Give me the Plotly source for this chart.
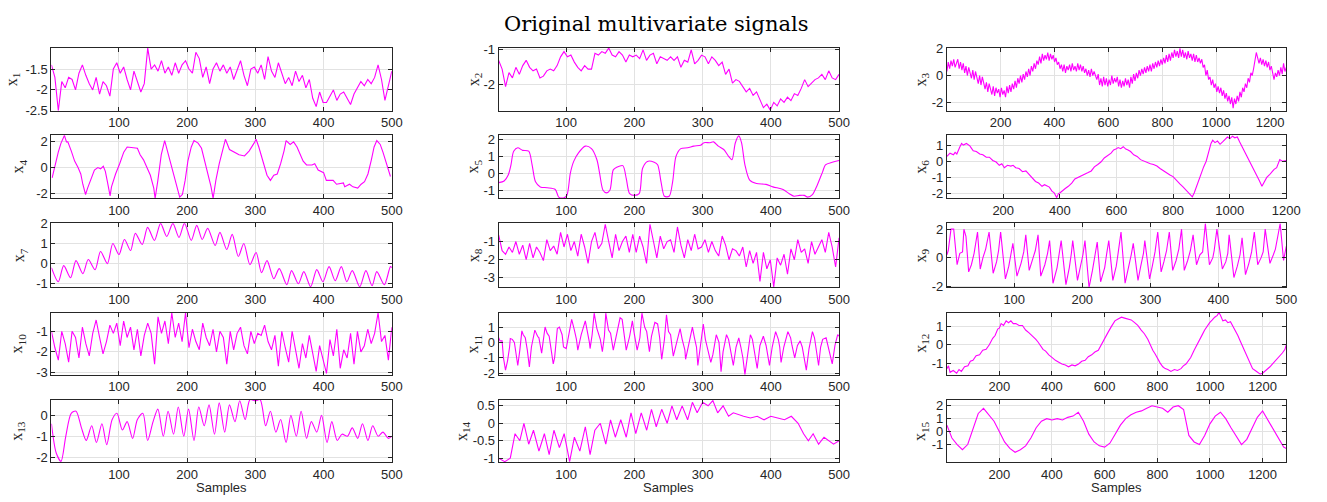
import numpy as np
import plotly.graph_objects as go

# ---------------- signal values ----------------
# uniformly spaced series (value lists, spread over 1..N samples)
x1_vals = [-1.4, -1.7, -2.5, -1.8, -1.95, -1.7, -1.75, -2.0, -1.6, -1.4,
           -1.65, -1.85, -2.0, -1.7, -2.1, -1.8, -1.9, -2.15, -1.5, -1.35,
           -1.6, -1.45, -1.75, -2.0, -1.55, -1.8, -2.05, -1.85, -1.0, -1.5,
           -1.4, -1.55, -1.3, -1.6, -1.45, -1.65, -1.35, -1.6, -1.4, -1.3,
           -1.5, -1.6, -1.1, -1.25, -1.7, -1.45, -1.85, -1.5, -1.35, -1.55,
           -1.4, -1.6, -1.45, -1.75, -1.5, -1.3, -1.65, -1.9, -1.5, -1.45,
           -1.6, -1.4, -1.75, -1.2, -1.55, -1.7, -1.35, -1.6, -1.85, -1.7,
           -1.9, -1.55, -1.8, -1.65, -1.95, -1.75, -2.2, -2.4, -2.05, -2.3,
           -2.3, -2.15, -2.0, -2.25, -2.1, -2.05, -2.2, -2.35, -2.1, -1.95,
           -1.8, -1.9, -1.75, -1.85, -1.7, -1.4, -1.75, -2.25, -1.9, -1.55]

x2_vals = [-1.3, -1.55, -2.05, -1.65, -1.8, -1.5, -1.7, -1.45, -1.3, -1.5,
           -1.6, -1.55, -1.8, -1.75, -1.6, -1.55, -1.6, -1.45, -1.2, -1.05,
           -1.2, -1.15, -1.35, -1.5, -1.6, -1.45, -1.55, -1.55, -1.1, -1.15,
           -1.05, -1.1, -0.95, -1.15, -1.2, -1.05, -1.15, -1.35, -1.15, -1.2,
           -1.15, -1.25, -1.0, -1.3, -1.15, -1.1, -1.4, -1.2, -1.25, -1.3,
           -1.2, -1.3, -1.2, -1.5, -1.3, -1.35, -1.0, -1.4, -1.3, -1.15,
           -1.2, -1.4, -1.2, -1.3, -1.45, -1.35, -1.7, -1.55, -1.95, -1.85,
           -1.9, -2.05, -2.2, -2.1, -2.3, -2.2, -2.45, -2.65, -2.55, -2.72,
           -2.5, -2.6, -2.4, -2.5, -2.35, -2.45, -2.25, -2.3, -2.1, -1.85,
           -2.05, -1.95, -1.85, -1.8, -1.7, -1.85, -1.6, -1.8, -1.85, -1.7]

x3_vals = [0.3, 1.0, 0.5, 1.1, 0.7, 1.2, 0.6, 0.9, 1.2, 0.5,
           1.0, 0.4, 0.9, 0.2, 0.7, 0.0, 0.6, 0.2, -0.2, 0.4,
           -0.3, 0.3, -0.2, -0.6, 0.0, -0.7, -0.1, -0.5, -1.0, -0.5,
           -1.2, -0.6, -1.0, -1.4, -0.8, -1.5, -0.9, -1.3, -1.0, -1.6,
           -0.9, -1.4, -1.1, -1.6, -0.8, -1.3, -0.7, -1.2, -0.6, -1.0,
           -0.4, -0.9, -0.2, -0.6, 0.0, -0.5, 0.1, -0.3, 0.3, -0.1,
           0.5, 0.0, 0.7, 0.3, 0.9, 0.5, 1.1, 0.8, 1.4, 0.9,
           1.6, 1.1, 1.5, 1.2, 1.7, 1.1, 1.6, 1.2, 1.5, 1.0,
           1.3, 0.8, 1.0, 0.5, 0.8, 0.3, 0.8, 0.2, 0.7, 0.4,
           0.8, 0.3, 0.9, 0.4, 0.7, 0.3, 0.9, 0.4, 0.8, 0.3,
           0.7, 0.2, 0.5, 0.0, 0.4, -0.1, 0.5, 0.0, 0.3, -0.1,
           -0.3, 0.1, -0.7, -0.2, -0.8, -0.1, -0.7, -0.2, -0.8, -0.3,
           -0.7, 0.0, -0.6, -0.2, -0.5, -0.1, -0.8, -0.3, -0.9, -0.4,
           -0.8, -0.2, -0.7, -0.3, -0.9, -0.1, -0.6, 0.1, -0.4, 0.2,
           -0.2, 0.4, 0.0, 0.5, 0.1, 0.6, 0.2, 0.7, 0.3, 0.8,
           0.3, 0.9, 0.5, 1.0, 0.6, 1.1, 0.7, 1.2, 0.8, 1.3,
           0.9, 1.5, 1.0, 1.6, 1.1, 1.7, 1.3, 1.9, 1.4, 1.8,
           1.3, 2.0, 1.4, 1.9, 1.3, 1.7, 1.2, 1.8, 1.3, 1.6,
           1.1, 1.6, 1.0, 1.5, 1.0, 1.3, 0.9, 1.2, 0.6, 0.8,
           0.0, 0.4, -0.3, -0.1, -0.7, -0.3, -0.9, -0.6, -1.2, -0.8,
           -1.3, -0.9, -1.5, -1.1, -1.7, -1.3, -1.9, -1.5, -2.1, -1.6,
           -2.4, -1.7, -2.1, -1.5, -1.9, -1.2, -1.6, -0.9, -1.2, -0.6,
           -0.9, -0.2, -0.5, 0.2, 0.0, 0.5, 1.1, 1.7, 1.3, 0.9,
           1.3, 0.8, 1.2, 0.7, 1.1, 0.6, 1.0, 0.4, 0.7, 0.2,
           -0.3, 0.2, -0.1, 0.4, 0.0, 0.6, 0.1, 0.9, 0.3, 0.6]

x8_vals = [-0.65, -1.5, -1.7, -1.3, -1.6, -1.0, -1.7, -1.2, -2.0, -1.1,
           -1.9, -1.3, -1.6, -2.05, -0.9, -1.5, -1.25, -1.7, -0.5, -1.3,
           -0.6, -1.5, -1.0, -1.8, -0.6, -1.3, -2.2, -1.0, -0.5, -1.4,
           -1.1, -0.05, -1.0, -1.9, -0.6, -1.5, -1.0, -0.7, -1.6, -0.6,
           -1.6, -0.7, -1.3, -2.2, -0.05, -1.0, -1.9, -0.7, -1.4, -1.0,
           -0.9, -1.6, -0.2, -1.2, -1.9, -0.9, -1.5, -0.6, -1.4, -1.3,
           -0.9, -1.6, -1.0, -1.5, -1.8, -0.7, -1.2, -2.0, -1.4, -1.5,
           -1.8, -1.3, -2.4, -1.5, -2.2, -1.6, -3.2, -1.6, -2.5, -2.0,
           -3.5, -1.9, -2.3, -1.7, -2.8, -1.4, -2.0, -0.9, -1.6, -1.4,
           -2.2, -1.0, -1.7, -1.3, -0.9, -1.6, -0.5, -1.3, -2.4, -0.8]

x10_vals = [-1.0, -1.8, -2.4, -1.0, -1.6, -2.5, -1.0, -1.3, -2.3, -0.8,
            -1.6, -2.2, -1.1, -0.45, -1.3, -2.1, -1.5, -0.7, -1.1, -0.6,
            -1.7, -0.5, -1.3, -0.8, -1.9, -0.9, -2.2, -1.2, -0.6, -1.1,
            -2.6, -0.3, -1.1, -0.5, -1.6, -0.1, -1.3, -0.6, -1.5, -0.1,
            -1.8, -0.9, -1.5, -1.9, -0.6, -1.3, -1.7, -0.9, -2.0, -1.0,
            -1.3, -2.6, -1.0, -1.9, -1.1, -0.8, -1.7, -2.1, -1.0, -1.6,
            -1.1, -1.2, -0.7, -1.5, -1.9, -1.2, -2.7, -1.0, -1.8, -2.5,
            -1.0, -2.0, -2.8, -1.6, -2.3, -1.2, -2.1, -2.95, -1.7, -2.4,
            -3.05, -1.4, -2.2, -0.9, -2.8, -1.9, -2.3, -1.1, -2.6, -1.0,
            -2.0, -1.7, -0.9, -1.6, -1.1, -0.1, -1.5, -1.2, -2.4, -0.8]

# series given as (sample, value) pairs
x4_t = [2, 6, 11, 15, 20, 23, 25, 30, 35, 40, 44, 47, 51, 54, 59, 64, 69, 73, 77, 80,
        83, 87, 89, 95, 101, 107, 112, 119, 127, 131, 136, 141, 146, 151, 153, 157, 162, 167, 170, 175,
        180, 185, 189, 193, 197, 201, 206, 210, 216, 221, 226, 230, 235, 238, 242, 247, 252, 256, 262, 269,
        276, 284, 291, 298, 301, 305, 313, 317, 322, 327, 332, 337, 342, 345, 351, 356, 361, 366, 370, 375,
        383, 387, 392, 400, 404, 414, 419, 429, 431, 438, 443, 450, 455, 460, 465, 470, 474, 478, 483, 487,
        492, 498]
x4_v = [-0.8, 0.2, 1.2, 1.9, 2.5, 2.0, 2.0, 1.3, 0.5, 0.0, -0.5, -1.3, -2.1, -1.6, -0.9, -0.2, 0.0, -0.1, 0.1, -0.3,
        -1.1, -2.2, -1.5, -0.5, 0.3, 1.2, 1.6, 1.55, 1.5, 1.0, 0.6, 0.0, -0.6, -1.6, -2.4, -1.0, 1.0, 2.1, 1.5, 0.6,
        -0.3, -1.5, -2.3, -2.1, -1.0, 0.5, 1.6, 2.1, 1.9, 1.5, 0.5, -0.5, -1.5, -2.4, -1.0, 0.3, 1.5, 2.2, 1.4, 1.2,
        1.0, 0.9, 1.3, 1.9, 2.2, 1.6, 0.0, -0.6, -1.0, -0.6, -0.5, 0.3, 1.3, 2.1, 1.8, 2.0, 1.6, 0.9, 0.5, 0.2,
        0.2, 0.3, -0.2, -0.4, -1.0, -1.0, -1.3, -1.2, -1.5, -1.3, -1.5, -1.6, -1.3, -1.1, -0.5, 0.6, 1.6, 2.1, 1.8, 1.2,
        0.3, -0.7]

x5_t = [1, 9, 15, 19, 23, 29, 36, 45, 50, 55, 62, 72, 84, 89, 96, 101, 106, 111, 118, 128,
        137, 145, 149, 154, 159, 164, 169, 174, 183, 188, 193, 200, 207, 212, 219, 229, 234, 239, 244, 251,
        256, 261, 268, 278, 287, 297, 302, 311, 316, 323, 331, 338, 343, 348, 353, 357, 362, 369, 379, 393,
        403, 418, 427, 434, 442, 449, 454, 461, 468, 476, 480, 490, 500]
x5_v = [-0.55, -0.45, -0.1, 0.5, 1.3, 1.5, 1.35, 1.3, 0.5, -0.5, -0.8, -0.85, -0.95, -1.4, -1.45, -1.3, 0.0, 0.7, 1.2, 1.6,
        1.45, 0.8, 0.0, -1.0, -1.15, -1.0, 0.2, 0.35, 0.45, -0.3, -1.2, -1.3, -1.2, 0.3, 0.7, 0.65, 0.5, -0.5, -1.35, -1.35,
        -0.5, 1.0, 1.45, 1.5, 1.6, 1.65, 1.8, 1.8, 1.85, 1.6, 1.4, 1.0, 0.8, 1.8, 2.2, 1.8, 0.5, -0.4, -0.6, -0.65,
        -0.8, -0.95, -1.2, -1.35, -1.3, -1.3, -1.4, -1.25, -0.7, 0.1, 0.5, 0.65, 0.75]

x6_t = [1, 12, 24, 30, 36, 42, 47, 53, 59, 70, 82, 88, 94, 105, 117, 128, 140, 151, 163, 175,
        186, 195, 204, 215, 227, 235, 244, 256, 268, 280, 291, 302, 314, 325, 337, 346, 355, 363, 372, 380,
        389, 395, 401, 410, 418, 430, 442, 453, 465, 476, 488, 500, 511, 522, 534, 545, 557, 569, 581, 590,
        598, 606, 615, 624, 633, 641, 650, 661, 673, 685, 697, 708, 720, 731, 743, 754, 766, 777, 789, 800,
        812, 824, 836, 844, 853, 860, 868, 875, 882, 891, 900, 908, 917, 923, 929, 934, 940, 948, 957, 966,
        975, 983, 992, 1001, 1010, 1018, 1027, 1035, 1044, 1053, 1062, 1070, 1079, 1088, 1097, 1105, 1114, 1122, 1131, 1140,
        1149, 1157, 1166, 1171, 1177, 1186, 1195, 1200]
x6_v = [0.3, 0.5, 0.4, 0.55, 0.45, 0.75, 0.9, 1.1, 1.0, 1.1, 0.95, 0.8, 0.65, 0.6, 0.45, 0.4, 0.25, 0.25, 0.05, -0.05,
        -0.25, -0.15, -0.4, -0.25, -0.3, -0.25, -0.4, -0.45, -0.65, -0.6, -0.8, -1.0, -1.25, -1.35, -1.55, -1.45, -1.55, -1.6, -1.85, -1.95,
        -2.25, -2.0, -1.95, -1.8, -1.7, -1.55, -1.35, -1.1, -1.0, -0.95, -0.8, -0.7, -0.6, -0.35, -0.2, -0.05, 0.2, 0.35, 0.5, 0.7,
        0.75, 0.85, 0.78, 0.9, 0.75, 0.7, 0.6, 0.4, 0.3, 0.1, 0.0, -0.05, -0.15, -0.2, -0.3, -0.45, -0.6, -0.7, -0.85, -0.95,
        -1.2, -1.4, -1.6, -1.75, -1.9, -2.05, -2.2, -1.95, -1.6, -1.2, -0.8, -0.35, 0.0, 0.4, 0.8, 1.1, 1.3, 1.15, 1.25, 1.05,
        1.2, 1.35, 1.5, 1.4, 1.55, 1.45, 1.5, 1.2, 0.9, 0.6, 0.3, 0.0, -0.3, -0.55, -0.85, -1.2, -1.55, -1.25, -1.0, -0.85,
        -0.65, -0.5, -0.4, -0.1, 0.1, 0.0, 0.05, 0.05]

x7_t = [1, 11, 19, 29, 37, 47, 55, 65, 73, 83, 91, 100, 108, 117, 124, 134, 142, 152, 161, 170,
        179, 188, 196, 206, 214, 222, 230, 241, 248, 258, 266, 275, 283, 292, 301, 309, 317, 327, 335, 346,
        353, 363, 371, 381, 390, 399, 408, 417, 426, 434, 442, 453, 462, 471, 478, 489, 498, 500]
x7_v = [-0.2, -0.9, -0.1, -0.7, 0.15, -0.5, 0.2, -0.3, 0.6, 0.0, 1.0, 0.45, 1.2, 0.65, 1.5, 0.95, 1.8, 1.15, 2.0, 1.35,
        2.0, 1.3, 2.0, 1.15, 1.9, 1.2, 1.75, 0.9, 1.55, 0.7, 1.45, 0.35, 1.0, -0.05, 0.55, -0.45, 0.15, -0.75, -0.25, -1.05,
        -0.35, -1.0, -0.4, -1.15, -0.3, -0.9, -0.15, -0.85, -0.15, -0.9, -0.35, -1.15, -0.35, -1.1, -0.4, -1.05, -0.15, -0.2]

x9_t = [1, 3, 7, 11, 16, 20, 24, 26, 29, 33, 37, 41, 46, 50, 54, 58, 63, 69, 74, 77,
        80, 87, 92, 96, 98, 104, 110, 114, 117, 122, 127, 131, 135, 139, 145, 149, 152, 157, 163, 166,
        169, 176, 181, 184, 186, 193, 198, 201, 204, 210, 215, 219, 222, 227, 233, 236, 239, 245, 250, 253,
        257, 263, 268, 272, 275, 282, 286, 290, 292, 299, 303, 307, 311, 316, 320, 324, 328, 333, 338, 342,
        346, 350, 355, 359, 363, 368, 373, 377, 381, 387, 392, 394, 398, 406, 411, 414, 416, 423, 428, 432,
        435, 440, 445, 449, 453, 458, 463, 466, 469, 476, 481, 484, 491, 496, 500]
x9_v = [0.2, 0.5, 2.0, 2.0, -0.5, 0.3, 0.4, 2.0, 1.5, -1.0, -0.5, 0.3, 1.8, -0.8, 0.0, 0.6, 1.8, -1.1, -0.3, 0.5,
        1.8, -1.5, -0.6, 0.4, 1.0, -1.3, -0.4, 0.4, 1.6, -0.9, -0.2, 0.5, 1.6, -1.3, -0.5, 0.3, 1.2, -1.8, -0.7, 0.4,
        1.2, -1.9, -0.7, 0.3, 1.2, -1.6, -0.6, 0.2, 1.2, -2.1, -0.9, 0.2, 1.1, -1.7, -0.7, 0.3, 1.2, -1.6, -0.6, 0.4,
        1.8, -1.8, -0.8, 0.2, 1.0, -1.6, -0.6, 0.3, 1.2, -1.5, -0.6, 0.4, 1.8, -1.0, -0.3, 0.5, 1.8, -0.9, -0.2, 0.6,
        2.0, -0.9, -0.2, 0.5, 1.6, -0.5, 0.2, 0.4, 2.4, -0.5, 0.0, 0.5, 2.0, -0.8, -0.3, 0.3, 1.6, -1.4, -0.6, 0.2,
        1.4, -1.2, -0.4, 0.4, 1.8, -0.5, 0.0, 0.4, 2.0, -0.4, 0.2, 0.6, 2.4, -0.2, 0.8]

x11_t = [1, 3, 6, 8, 11, 14, 17, 18, 21, 24, 25, 29, 32, 35, 37, 40, 43, 46, 49, 54,
         58, 60, 64, 69, 72, 75, 81, 83, 87, 90, 94, 96, 100, 104, 108, 112, 115, 117, 122, 128,
         132, 134, 135, 138, 141, 145, 150, 153, 156, 158, 162, 165, 169, 174, 179, 182, 185, 188, 193, 197,
         200, 204, 208, 211, 215, 218, 222, 225, 230, 234, 237, 240, 244, 247, 250, 253, 257, 261, 263, 267,
         270, 274, 275, 279, 285, 288, 291, 293, 297, 301, 304, 308, 312, 315, 320, 324, 327, 330, 335, 338,
         341, 345, 349, 353, 356, 359, 362, 366, 370, 373, 377, 380, 384, 389, 393, 395, 398, 402, 407, 411,
         413, 415, 419, 425, 429, 431, 435, 439, 443, 446, 449, 452, 456, 461, 464, 467, 470, 473, 476, 481,
         485, 488, 490, 494, 498, 500]
x11_v = [0.3, 0.1, 0.1, -1.0, -1.8, -1.2, -0.3, 0.25, 0.2, 0.0, -0.3, -1.5, -0.5, 0.75, 0.5, 0.3, -0.5, -1.6, -0.3, 0.8,
         0.4, 0.3, -0.7, 1.0, 0.6, 0.4, -1.4, -1.0, 0.9, 1.0, 0.5, -0.3, -0.4, 0.5, 1.5, 0.8, 0.2, -0.5, 0.5, 1.4,
         0.6, 0.0, -0.4, 0.5, 1.9, 0.9, 0.2, -0.6, 0.4, 1.9, 0.8, 0.6, -0.5, 0.5, 1.6, 1.5, 0.6, -0.5, 0.4, 1.4,
         0.5, -0.5, 0.3, 1.9, 1.0, 0.7, -0.6, 0.4, 1.3, 1.2, 0.3, -1.1, 0.2, 1.8, 0.7, 0.5, -0.9, -0.2, 0.2, 0.9,
         0.2, -0.5, -1.1, -0.3, 1.0, 0.3, -0.3, -1.5, 0.0, 1.2, 0.2, -0.5, -1.3, -0.8, 0.5, 0.0, -1.9, -0.6, 0.5, 0.2,
         -0.5, -1.5, -0.3, 0.3, -0.3, -1.0, -2.1, -0.6, 0.5, 0.2, -0.8, -1.7, -0.2, 0.4, -0.2, -0.8, -1.5, -0.3, 0.7, 0.2,
         -0.3, -1.3, -0.3, 0.7, 0.3, -0.2, -1.0, -0.2, 0.1, -0.3, -1.0, -1.8, -0.4, 0.7, 0.3, -0.5, -1.5, -0.3, 0.2, 0.3,
         -0.5, -1.2, -1.4, -0.2, 0.5, 0.4]

x12_t = [1, 7, 13, 25, 38, 47, 56, 68, 81, 90, 100, 112, 125, 137, 150, 162, 175, 184, 194, 200,
         207, 216, 226, 235, 244, 253, 263, 275, 288, 300, 313, 325, 338, 347, 357, 366, 376, 388, 401, 413,
         426, 438, 451, 463, 476, 488, 501, 513, 526, 538, 551, 563, 576, 585, 595, 604, 614, 626, 639, 651,
         664, 676, 689, 701, 714, 726, 739, 751, 764, 773, 783, 792, 802, 811, 821, 830, 840, 852, 865, 877,
         890, 899, 909, 918, 927, 940, 952, 961, 971, 980, 990, 999, 1009, 1018, 1028, 1034, 1040, 1049, 1059, 1068,
         1078, 1087, 1097, 1106, 1115, 1124, 1134, 1143, 1153, 1162, 1172, 1181, 1191, 1200, 1209, 1218, 1228, 1237, 1247, 1256,
         1266, 1275, 1285, 1290]
x12_v = [-1.3, -1.15, -1.5, -1.4, -1.55, -1.35, -1.45, -1.2, -1.15, -0.9, -0.85, -0.6, -0.55, -0.3, -0.25, 0.0, 0.35, 0.5, 0.85, 0.9,
         1.15, 1.05, 1.3, 1.2, 1.3, 1.15, 1.15, 1.05, 1.05, 0.8, 0.65, 0.5, 0.3, 0.15, -0.05, -0.25, -0.35, -0.55, -0.7, -0.85,
         -0.95, -1.05, -1.1, -1.2, -1.1, -1.15, -1.05, -0.9, -0.85, -0.65, -0.55, -0.4, -0.3, -0.05, 0.2, 0.4, 0.7, 1.0, 1.3, 1.4,
         1.5, 1.45, 1.4, 1.35, 1.2, 1.05, 0.8, 0.6, 0.3, 0.0, -0.3, -0.5, -0.8, -1.0, -1.2, -1.3, -1.35, -1.45, -1.35, -1.4,
         -1.3, -1.15, -1.05, -0.85, -0.7, -0.3, 0.0, 0.3, 0.55, 0.8, 1.05, 1.2, 1.35, 1.5, 1.6, 1.75, 1.6, 1.3, 1.35, 1.2,
         1.25, 1.0, 0.8, 0.5, 0.2, -0.1, -0.4, -0.75, -1.1, -1.3, -1.4, -1.5, -1.6, -1.55, -1.45, -1.35, -1.2, -1.05, -0.9, -0.75,
         -0.6, -0.45, -0.25, 0.0]

x13_t = [1, 8, 15, 22, 30, 37, 45, 52, 60, 67, 75, 82, 90, 97, 105, 112, 120, 127, 135, 142,
         150, 157, 165, 172, 180, 187, 195, 202, 210, 217, 225, 232, 240, 247, 255, 262, 270, 277, 285, 292,
         300, 307, 315, 322, 330, 337, 345, 352, 360, 367, 375, 382, 390, 397, 405, 412, 420, 427, 435, 442,
         450, 457, 465, 472, 480, 487, 495, 500]
x13_v = [-0.4, -1.8, -2.2, -1.0, 0.1, 0.2, -0.6, -1.2, -0.5, -1.3, -0.4, -1.4, -0.2, 0.1, -0.7, -0.3, -1.1, -0.2, 0.1, -1.2,
         -0.3, 0.3, -1.0, 0.2, -0.9, 0.4, -1.0, 0.3, -1.2, 0.4, -0.5, 0.5, -0.9, 0.6, -0.8, 0.5, -0.3, 0.7, -0.2, 0.75,
         0.7, 0.75, -0.5, 0.2, -0.8, -0.2, -1.3, 0.0, -1.0, 0.2, -1.1, -0.3, -0.8, 0.0, -1.3, -0.3, -1.2, -0.9, -1.0, -0.6,
         -1.1, -0.4, -1.2, -0.5, -1.0, -0.8, -1.1, -1.0]

x14_t = [1, 10, 18, 25, 32, 38, 45, 52, 60, 68, 75, 82, 90, 97, 105, 112, 120, 128, 135, 142,
         150, 158, 165, 172, 180, 188, 195, 202, 210, 218, 225, 232, 240, 248, 255, 262, 270, 278, 285, 292,
         300, 308, 315, 322, 330, 338, 345, 352, 360, 370, 380, 390, 400, 410, 420, 430, 440, 448, 455, 462,
         470, 478, 485, 492, 500]
x14_v = [-1.0, -1.1, -1.0, -0.3, -0.5, 0.0, -0.6, -0.2, -0.8, -0.3, -0.9, -0.2, -0.7, -0.3, -1.1, -0.4, -0.8, -0.1, -0.9, -0.2,
         0.0, -0.6, 0.1, -0.4, 0.1, -0.4, 0.3, -0.3, 0.3, -0.2, 0.4, -0.1, 0.4, 0.0, 0.5, 0.1, 0.5, 0.1, 0.6, 0.3,
         0.6, 0.5, 0.65, 0.3, 0.5, 0.2, 0.3, 0.25, 0.2, 0.15, 0.2, 0.1, 0.2, 0.15, 0.1, 0.2, 0.0, -0.3, -0.5, -0.3,
         -0.6, -0.4, -0.5, -0.6, -0.5]

x15_t = [1, 20, 40, 60, 80, 100, 120, 140, 160, 180, 200, 220, 240, 260, 280, 300, 320, 340, 360, 380,
         400, 420, 440, 460, 480, 500, 520, 540, 560, 580, 600, 620, 640, 660, 680, 700, 720, 740, 760, 780,
         800, 820, 840, 860, 880, 900, 920, 940, 960, 980, 1000, 1020, 1040, 1060, 1080, 1100, 1120, 1140, 1160, 1180,
         1200, 1220, 1240, 1260, 1280, 1290]
x15_v = [0.5, -0.5, -1.0, -1.4, -1.0, 0.2, 1.4, 1.8, 1.3, 0.8, 0.0, -0.8, -1.3, -1.6, -1.4, -1.1, -0.5, 0.3, 0.8, 1.0,
         0.9, 1.0, 0.9, 1.1, 1.2, 1.5, 0.8, -0.2, -0.8, -1.1, -1.2, -0.9, -0.2, 0.5, 1.0, 1.3, 1.5, 1.6, 1.8, 2.0,
         1.9, 1.8, 1.5, 1.9, 2.0, 1.7, -0.3, -0.8, -1.0, -0.3, 0.6, 1.2, 1.5, 1.0, 0.3, -0.4, -1.0, -0.6, 0.3, 1.1,
         1.6, 0.9, 0.1, -0.6, -1.2, -1.3]

# ---------------- axis settings ----------------
ticks_500 = [100, 200, 300, 400, 500]
ticks_1200 = [200, 400, 600, 800, 1000, 1200]


def even(n, vals):
    return list(np.linspace(1, n, len(vals)))


panels = [
    # (index, t, v, x range, y range, y ticks, x ticks, line shape, label x in px)
    (1, even(500, x1_vals), x1_vals, [1, 500], [-2.5, -0.99], [-2.5, -2, -1.5], ticks_500, "linear", 12),
    (2, even(500, x2_vals), x2_vals, [1, 500], [-2.74, -0.94], [-2, -1], ticks_500, "linear", 479),
    (3, even(1260, x3_vals), x3_vals, [1, 1260], [-2.6, 2.05], [-2, 0, 2], ticks_1200, "linear", 931),
    (4, x4_t, x4_v, [1, 500], [-2.38, 2.53], [-2, 0, 2], ticks_500, "linear", 19),
    (5, x5_t, x5_v, [1, 500], [-1.46, 2.25], [-1, 0, 1, 2], ticks_500, "spline", 479),
    (6, x6_t, x6_v, [1, 1200], [-2.28, 1.62], [-2, -1, 0, 1], ticks_1200, "linear", 931),
    (7, x7_t, x7_v, [1, 500], [-1.18, 2.0], [-1, 0, 1, 2], ticks_500, "spline", 20),
    (8, even(500, x8_vals), x8_vals, [1, 500], [-3.52, 0.0], [-3, -2, -1], ticks_500, "linear", 479),
    (9, x9_t, x9_v, [1, 500], [-2.09, 2.41], [-2, 0, 2], ticks_500, "linear", 931),
    (10, even(500, x10_vals), x10_vals, [1, 500], [-3.11, -0.09], [-3, -2, -1], ticks_500, "linear", 18),
    (11, x11_t, x11_v, [1, 500], [-2.1, 1.94], [-2, -1, 0, 1], ticks_500, "linear", 479),
    (12, x12_t, x12_v, [1, 1290], [-1.63, 1.75], [-1, 0, 1], ticks_1200, "linear", 931),
    (13, x13_t, x13_v, [1, 500], [-2.23, 0.74], [-2, -1, 0], ticks_500, "spline", 18),
    (14, x14_t, x14_v, [1, 500], [-1.11, 0.67], [-1, -0.5, 0, 0.5], ticks_500, "linear", 468),
    (15, x15_t, x15_v, [1, 1290], [-2.35, 2.45], [-1, 0, 1, 2], ticks_1200, "linear", 931),
]

W, H = 1327, 502
col_px = [(52, 396), (504, 848), (957, 1300)]
row_px = [(42, 107), (132, 197), (223, 289), (315, 379), (405, 469)]

AXC = "#262626"
GRID = "#e2e2e2"
TICKFONT = dict(family="Liberation Sans, Arial, sans-serif", size=13, color=AXC)


def fmt(v):
    return "%g" % v


fig = go.Figure()
annotations = []
for idx, t, v, xr, yr, yt, xt, shape, lab_x in panels:
    r, c = divmod(idx - 1, 3)
    suffix = "" if idx == 1 else str(idx)
    fig.add_trace(go.Scatter(
        x=t, y=v, mode="lines",
        line=dict(color="#ff00ff", width=1.1, shape=shape,
                  smoothing=0.8 if shape == "spline" else None),
        xaxis="x" + suffix, yaxis="y" + suffix, showlegend=False, hoverinfo="skip"))
    x0, x1 = col_px[c]
    y0, y1 = row_px[r]
    common = dict(showline=True, linecolor=AXC, linewidth=1, mirror="ticks",
                  ticks="inside", ticklen=4, tickcolor=AXC, tickwidth=1,
                  showgrid=True, gridcolor=GRID, gridwidth=1, zeroline=False,
                  tickfont=TICKFONT, fixedrange=True)
    fig.update_layout(**{
        "xaxis" + suffix: dict(domain=[x0 / W, x1 / W], range=xr, anchor="y" + suffix,
                               tickvals=xt, ticktext=[fmt(a) for a in xt], **common),
        "yaxis" + suffix: dict(domain=[1 - y1 / H, 1 - y0 / H], range=yr, anchor="x" + suffix,
                               tickvals=yt, ticktext=[fmt(a) for a in yt], **common),
    })
    annotations.append(dict(
        text="x<sub>%d</sub>" % idx, xref="paper", yref="paper",
        x=lab_x / W, y=1 - (y0 + y1) / 2 / H, textangle=-90,
        showarrow=False, xanchor="center", yanchor="middle",
        font=dict(family="Liberation Serif, Times New Roman, serif", size=16, color=AXC)))

for c in range(3):
    x0, x1 = col_px[c]
    annotations.append(dict(
        text="Samples", xref="paper", yref="paper",
        x=(x0 + x1) / 2 / W, y=1 - 495 / H, showarrow=False,
        xanchor="center", yanchor="middle",
        font=dict(family="Liberation Sans, Arial, sans-serif", size=13, color=AXC)))

annotations.append(dict(
    text="Original multivariate signals", xref="paper", yref="paper",
    x=0.5, y=1 - 18 / H, showarrow=False, xanchor="center", yanchor="middle",
    font=dict(family="DejaVu Serif, Liberation Serif, serif", size=21, color="#000000")))

fig.update_layout(width=W, height=H, margin=dict(l=0, r=0, t=0, b=0),
                  paper_bgcolor="white", plot_bgcolor="white",
                  annotations=annotations, showlegend=False)

fig.write_html("out.html")
